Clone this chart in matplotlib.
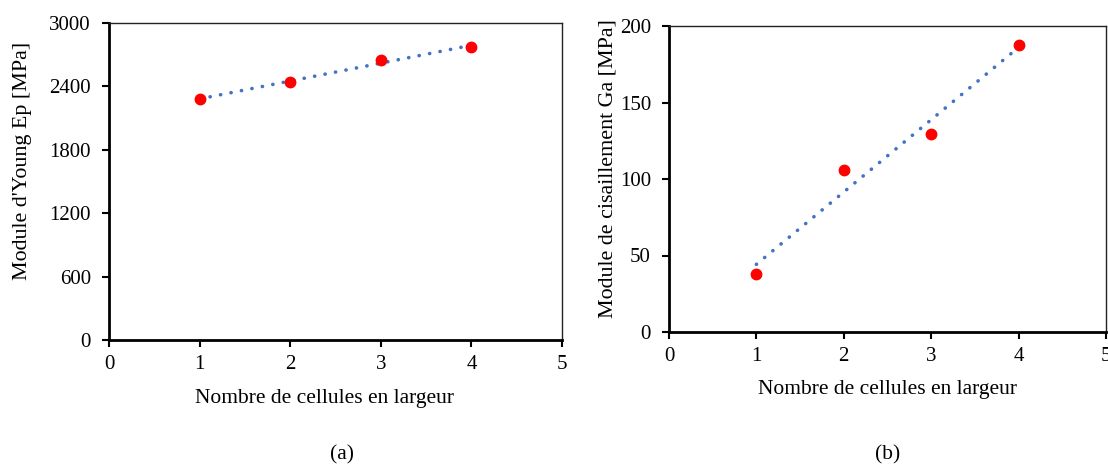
import numpy as np
import matplotlib
matplotlib.use("Agg")
import matplotlib.pyplot as plt

plt.rcParams['font.family'] = ['Liberation Serif', 'DejaVu Serif']

# nombre de cellules en largeur
cellules = [1, 2, 3, 4]
# module d'Young Ep [MPa]
young = [2280, 2437, 2654, 2771]
# module de cisaillement Ga [MPa]
cisaillement = [37.8, 105.9, 129.2, 187.6]

fig = plt.figure(figsize=(11.08, 4.67), dpi=100)


def panel(rect, y, ylim, yticks, ylabel):
    ax = fig.add_axes(rect)
    x = np.array(cellules)
    # courbe de tendance lineaire
    p = np.polyfit(x, y, 1)
    ax.plot(x, np.polyval(p, x), color='#4472C4', linewidth=2.6,
            linestyle=(0, (0.05, 2.9)), dash_capstyle='round', zorder=2)
    ax.plot(x, y, 'o', color='#FF0000', markersize=7.5, zorder=3)
    ax.set_xlim(0, 5)
    ax.set_ylim(*ylim)
    ax.set_xticks(range(6))
    ax.set_yticks(yticks)
    ax.tick_params(direction='out', length=5, width=1.5, labelsize=15, pad=6)
    ax.tick_params(axis='y', pad=8)
    for s in ['left', 'bottom']:
        ax.spines[s].set_linewidth(2)
    for s in ['top', 'right']:
        ax.spines[s].set_linewidth(1)
        ax.spines[s].set_color('#222222')
    ax.set_xlabel('Nombre de cellules en largeur', fontsize=15.5, labelpad=10)
    ax.set_ylabel(ylabel, fontsize=15.8, labelpad=6)
    return ax


W, H = 1108, 467
ax1 = panel([109 / W, 1 - 340 / H, 453 / W, 317 / H], young, (0, 3000),
            [0, 600, 1200, 1800, 2400, 3000], "Module d'Young Ep [MPa]")
ax1.xaxis.set_label_coords(0.475, -0.155)
ax1.yaxis.set_label_coords(-0.17, 0.565)

ax2 = panel([669 / W, 1 - 332 / H, 437 / W, 306 / H], cisaillement, (0, 200),
            [0, 50, 100, 150, 200], 'Module de cisaillement Ga [MPa]')
ax2.yaxis.set_label_coords(-0.118, 0.535)

fig.text(342 / W, 1 - 455 / H, '(a)', fontsize=15.5, ha='center', va='center')
fig.text(888 / W, 1 - 455 / H, '(b)', fontsize=15.5, ha='center', va='center')

fig.savefig('out.png', dpi=100)
